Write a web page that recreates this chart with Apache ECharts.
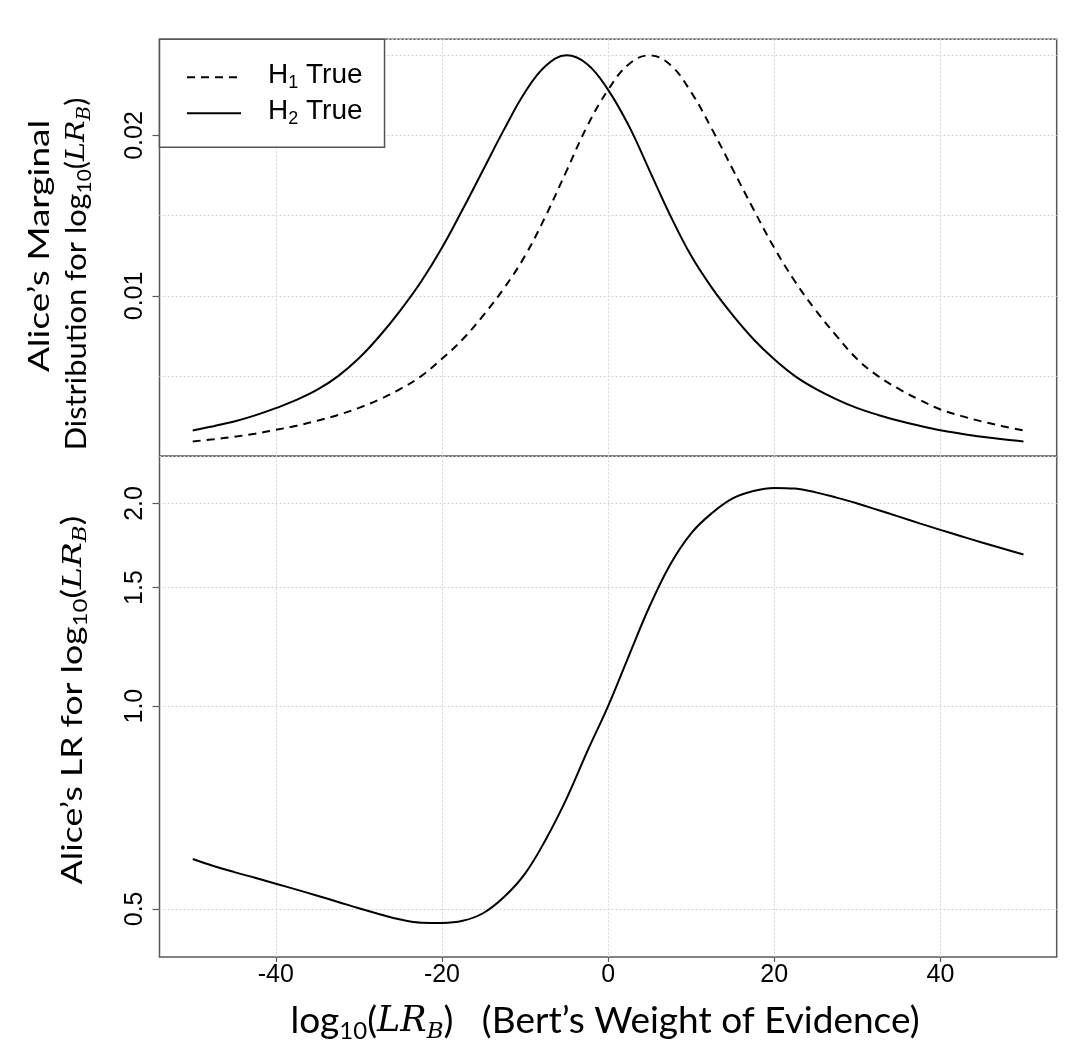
<!DOCTYPE html>
<html>
<head>
<meta charset="utf-8">
<script src="https://cdn.jsdelivr.net/npm/echarts@6/dist/echarts.min.js"></script>
<style>
  html, body { margin: 0; padding: 0; background: #fff; }
  #chart { width: 1074px; height: 1055px; }
</style>
</head>
<body>
<div id="chart"></div>
<script>
// ---- data ----
const xValues = [-50, -47.5, -45, -42.5, -40, -37.5, -35, -32.5, -30, -27.5, -25, -22.5, -20, -17.5, -15, -12.5, -10, -7.5, -5, -2.5, 0,
                 2.5, 5, 7.5, 10, 12.5, 15, 17.5, 20, 22.5, 25, 27.5, 30, 32.5, 35, 37.5, 40, 42.5, 45, 47.5, 50];

// Alice's marginal density when H1 is true (dashed)
const h1Density = [0.00093, 0.00106, 0.00122, 0.00141, 0.00165, 0.00190, 0.00222, 0.00258, 0.00302, 0.00355, 0.00420, 0.00500, 0.00608, 0.00730, 0.00880, 0.01050, 0.01250, 0.01500, 0.01780, 0.02060, 0.02285,
                   0.02445, 0.02500, 0.02440, 0.02270, 0.02040, 0.01790, 0.01540, 0.01300, 0.01090, 0.00910, 0.00750, 0.00605, 0.00500, 0.00420, 0.00352, 0.00292, 0.00252, 0.00217, 0.00188, 0.00161];

// Alice's marginal density when H2 is true (solid)
const h2Density = [0.00161, 0.00188, 0.00217, 0.00255, 0.00300, 0.00352, 0.00415, 0.00500, 0.00611, 0.00750, 0.00910, 0.01090, 0.01300, 0.01540, 0.01790, 0.02040, 0.02270, 0.02435, 0.02500, 0.02445, 0.02285,
                   0.02060, 0.01780, 0.01500, 0.01250, 0.01050, 0.00880, 0.00730, 0.00605, 0.00500, 0.00420, 0.00355, 0.00300, 0.00258, 0.00222, 0.00190, 0.00162, 0.00141, 0.00122, 0.00106, 0.00093];

// Alice's likelihood ratio (plotted on a log10 scale)
const aliceLR = [0.593, 0.579, 0.567, 0.556, 0.545, 0.534, 0.523, 0.512, 0.501, 0.491, 0.482, 0.477, 0.4766, 0.480, 0.493, 0.521, 0.564, 0.634, 0.729, 0.857, 1.0,
                 1.188, 1.407, 1.625, 1.806, 1.935, 2.035, 2.087, 2.109, 2.104, 2.077, 2.040, 2.000, 1.955, 1.912, 1.868, 1.827, 1.788, 1.750, 1.714, 1.680];

const xTicks = [-40, -20, 0, 20, 40];
const topYTicks = [0.01, 0.02];
const bottomYTicks = [0.5, 1.0, 1.5, 2.0];

const seriesNames = ['H1 True', 'H2 True'];

// ---- chart ----
const chart = echarts.init(document.getElementById('chart'), null, { renderer: 'canvas' });

const gridColor = '#d4d4d4';
const frameColor = '#5a5a5a';
const tickFont = 'Liberation Sans';
const titleFont = 'Lato';
const mathFont = 'DejaVu Serif';

const log10 = v => Math.log(v) / Math.LN10;

function titleRich(fs, sfs, pad) {
  return {
    n: { fontFamily: titleFont, fontSize: fs, lineHeight: fs + 4, padding: [0, 0, pad, 0], verticalAlign: 'bottom', color: '#000' },
    s: { fontFamily: titleFont, fontSize: sfs, lineHeight: sfs + 3, verticalAlign: 'bottom', color: '#000' },
    m: { fontFamily: mathFont, fontStyle: 'italic', fontSize: fs - 2, lineHeight: fs + 4, padding: [0, 0, pad, 0], verticalAlign: 'bottom', color: '#000' },
    ms: { fontFamily: mathFont, fontStyle: 'italic', fontSize: sfs - 1, lineHeight: sfs + 3, verticalAlign: 'bottom', color: '#000' }
  };
}

const option = {
  animation: false,
  backgroundColor: '#fff',
  grid: [
    { left: 159.5, right: 17.3, top: 39.3, height: 417, show: true, borderColor: frameColor, borderWidth: 1.5, backgroundColor: 'transparent' },
    { left: 159.5, right: 17.3, top: 456.3, height: 500.7, show: true, borderColor: frameColor, borderWidth: 1.5, backgroundColor: 'transparent' }
  ],
  xAxis: [
    {
      type: 'value', gridIndex: 0, min: -54, max: 54, position: 'bottom',
      axisLine: { show: false, onZero: false },
      axisTick: { show: false, customValues: xTicks },
      axisLabel: { show: false, customValues: xTicks },
      splitLine: { show: true, lineStyle: { color: gridColor, width: 1, type: [2, 2] } }
    },
    {
      type: 'value', gridIndex: 1, min: -54, max: 54, position: 'bottom',
      axisLine: { show: false, onZero: false },
      axisTick: { show: true, customValues: xTicks, length: 5, lineStyle: { color: frameColor, width: 1.2 } },
      axisLabel: { show: true, customValues: xTicks, margin: 6, fontFamily: tickFont, fontSize: 25, color: '#000',
                   formatter: v => String(Math.round(v)) },
      splitLine: { show: true, lineStyle: { color: gridColor, width: 1, type: [2, 2] } }
    }
  ],
  yAxis: [
    {
      type: 'value', gridIndex: 0, min: 0, max: 0.026, position: 'left',
      axisLine: { show: false, onZero: false },
      axisTick: { show: true, customValues: topYTicks, length: 7, lineStyle: { color: frameColor, width: 1.2 } },
      axisLabel: { show: true, customValues: topYTicks, rotate: 90, margin: 12, fontFamily: tickFont, fontSize: 25, color: '#000',
                   formatter: v => v.toFixed(2) },
      splitLine: { show: false }
    },
    {
      type: 'value', gridIndex: 0, min: 0, max: 0.026, interval: 0.005, position: 'left',
      axisLine: { show: false, onZero: false }, axisTick: { show: false }, axisLabel: { show: false },
      splitLine: { show: true, lineStyle: { color: gridColor, width: 1, type: [2, 2] } }
    },
    {
      type: 'value', gridIndex: 1, min: -0.3725, max: 0.3710, position: 'left',
      axisLine: { show: false, onZero: false },
      axisTick: { show: true, customValues: bottomYTicks.map(log10), length: 7, lineStyle: { color: frameColor, width: 1.2 } },
      axisLabel: { show: true, customValues: bottomYTicks.map(log10), rotate: 90, margin: 12, fontFamily: tickFont, fontSize: 25, color: '#000',
                   formatter: v => Math.pow(10, v).toFixed(1) },
      splitLine: { show: true, lineStyle: { color: gridColor, width: 1, type: [2, 2] } }
    }
  ],
  legend: {
    data: seriesNames,
    orient: 'vertical',
    left: 159.5, top: 39.3,
    itemWidth: 54, itemHeight: 14, itemGap: 5,
    padding: [22, 22, 19, 26.5],
    borderColor: '#555', borderWidth: 1.5, borderRadius: 0,
    backgroundColor: '#fff',
    selectedMode: false,
    itemStyle: { opacity: 0 },
    formatter: name => name === 'H1 True' ? '{n|H}{s|1}{n| True}' : '{n|H}{s|2}{n| True}',
    textStyle: {
      padding: [0, 0, 0, 22],
      rich: {
        n: { fontFamily: tickFont, fontSize: 28, lineHeight: 30, padding: [0, 0, 3, 0], verticalAlign: 'bottom', color: '#000' },
        s: { fontFamily: tickFont, fontSize: 18, lineHeight: 20, verticalAlign: 'bottom', color: '#000' }
      }
    }
  },
  series: [
    {
      name: 'H1 True', type: 'line', xAxisIndex: 0, yAxisIndex: 0, smooth: 0.4, symbol: 'none',
      lineStyle: { color: '#000', width: 2, type: [8, 6] }, itemStyle: { color: '#000' },
      data: xValues.map((x, i) => [x, h1Density[i]]), z: 5
    },
    {
      name: 'H2 True', type: 'line', xAxisIndex: 0, yAxisIndex: 0, smooth: 0.4, symbol: 'none',
      lineStyle: { color: '#000', width: 2, type: 'solid' }, itemStyle: { color: '#000' },
      data: xValues.map((x, i) => [x, h2Density[i]]), z: 5
    },
    {
      name: 'Alice LR', type: 'line', xAxisIndex: 1, yAxisIndex: 2, smooth: 0.4, symbol: 'none',
      lineStyle: { color: '#000', width: 2 }, itemStyle: { color: '#000' },
      data: xValues.map((x, i) => [x, log10(aliceLR[i])]), z: 5
    }
  ],
  graphic: [
    {
      type: 'text', x: 42, y: 246, rotation: Math.PI / 2, scaleX: 1.32,
      style: { text: '{n|Alice’s Marginal}', rich: titleRich(28, 19, 4), align: 'center', verticalAlign: 'middle' }
    },
    {
      type: 'text', x: 78.5, y: 274, rotation: Math.PI / 2, scaleX: 1.1,
      style: { text: '{n|Distribution for log}{s|10}{n|(}{m|LR}{ms|B}{n|)}', rich: titleRich(28, 19, 4), align: 'center', verticalAlign: 'middle' }
    },
    {
      type: 'text', x: 74.8, y: 700, rotation: Math.PI / 2, scaleX: 1.27,
      style: { text: '{n|Alice’s LR for log}{s|10}{n|(}{m|LR}{ms|B}{n|)}', rich: titleRich(28, 19, 4), align: 'center', verticalAlign: 'middle' }
    },
    {
      type: 'text', x: 605, y: 1023,
      style: { text: '{n|log}{s|10}{n|(}{m|LR}{ms|B}{n|)   (Bert’s Weight of Evidence)}', rich: titleRich(37, 24, 4), align: 'center', verticalAlign: 'middle' }
    }
  ]
};

chart.setOption(option);
</script>
</body>
</html>
